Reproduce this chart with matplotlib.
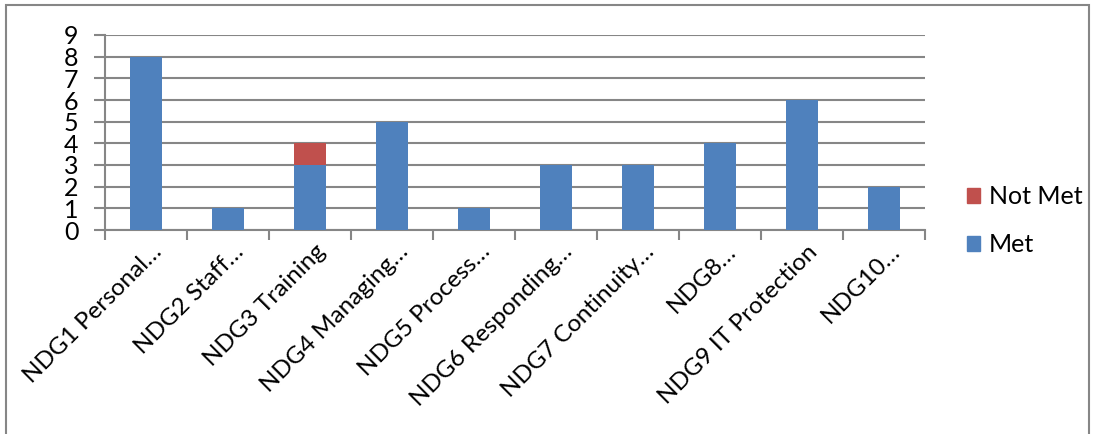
import matplotlib
matplotlib.use("Agg")
import matplotlib.pyplot as plt
import matplotlib.transforms as mtransforms
from matplotlib.patches import Rectangle, Patch
import numpy as np

categories = ["NDG1 Personal…", "NDG2 Staff…", "NDG3 Training", "NDG4 Managing…",
              "NDG5 Process…", "NDG6 Responding…", "NDG7 Continuity…", "NDG8…",
              "NDG9 IT Protection", "NDG10…"]
met = [8, 1, 3, 5, 1, 3, 3, 4, 6, 2]
not_met = [0, 0, 1, 0, 0, 0, 0, 0, 0, 0]
yticks = list(range(0, 10))

plt.rcParams['font.family'] = ['Lato', 'DejaVu Sans']
W, H = 1093, 434
fig = plt.figure(figsize=(W / 100, H / 100), dpi=100)
ax = fig.add_axes([105 / W, 1 - 230 / H, (925 - 105) / W, (230 - 35) / H])

blue = '#4F81BD'
red = '#C0504D'
grid = '#868686'
x = np.arange(len(categories))
ax.bar(x, met, width=0.39, color=blue, label='Met', zorder=3)
ax.bar(x, not_met, width=0.39, bottom=met, color=red, label='Not Met', zorder=3)

ax.set_xlim(-0.5, len(categories) - 0.5)
ax.set_ylim(0, 9)
ax.set_yticks(yticks)
ax.set_yticklabels([str(v) for v in yticks], fontsize=18)
ax.yaxis.grid(True, color=grid, linewidth=1.5, zorder=0)
ax.set_axisbelow(True)
ax.tick_params(axis='y', direction='out', length=8, width=1.5, color=grid, pad=11)

ax.set_xticks(x)
ax.set_xticklabels(categories, rotation=45, ha='right', rotation_mode='anchor', fontsize=17.5)
ax.tick_params(axis='x', which='major', length=0, pad=10)
offset = mtransforms.ScaledTranslation(0.05, 0.03, fig.dpi_scale_trans)
for lbl in ax.get_xticklabels():
    lbl.set_transform(lbl.get_transform() + offset)
ax.set_xticks(np.arange(-0.5, len(categories), 1), minor=True)
ax.tick_params(axis='x', which='minor', direction='out', length=7, width=1.5, color=grid)

for s in ['top', 'right']:
    ax.spines[s].set_visible(False)
for s in ['left', 'bottom']:
    ax.spines[s].set_color(grid)
    ax.spines[s].set_linewidth(1.5)

handles = [Patch(color=red, label='Not Met'), Patch(color=blue, label='Met')]
fig.legend(handles=handles, loc='upper left', bbox_to_anchor=(944 / W, 1 - 163 / H),
           frameon=False, fontsize=18, handlelength=0.55, handleheight=0.55,
           handletextpad=0.35, labelspacing=1.0)

fig.patches.append(Rectangle((6 / W, -0.1), (1089 - 6) / W, 1.1 - 5 / H,
                             transform=fig.transFigure, fill=False,
                             edgecolor=grid, linewidth=1.5))

fig.savefig('out.png', dpi=100, facecolor='white')
